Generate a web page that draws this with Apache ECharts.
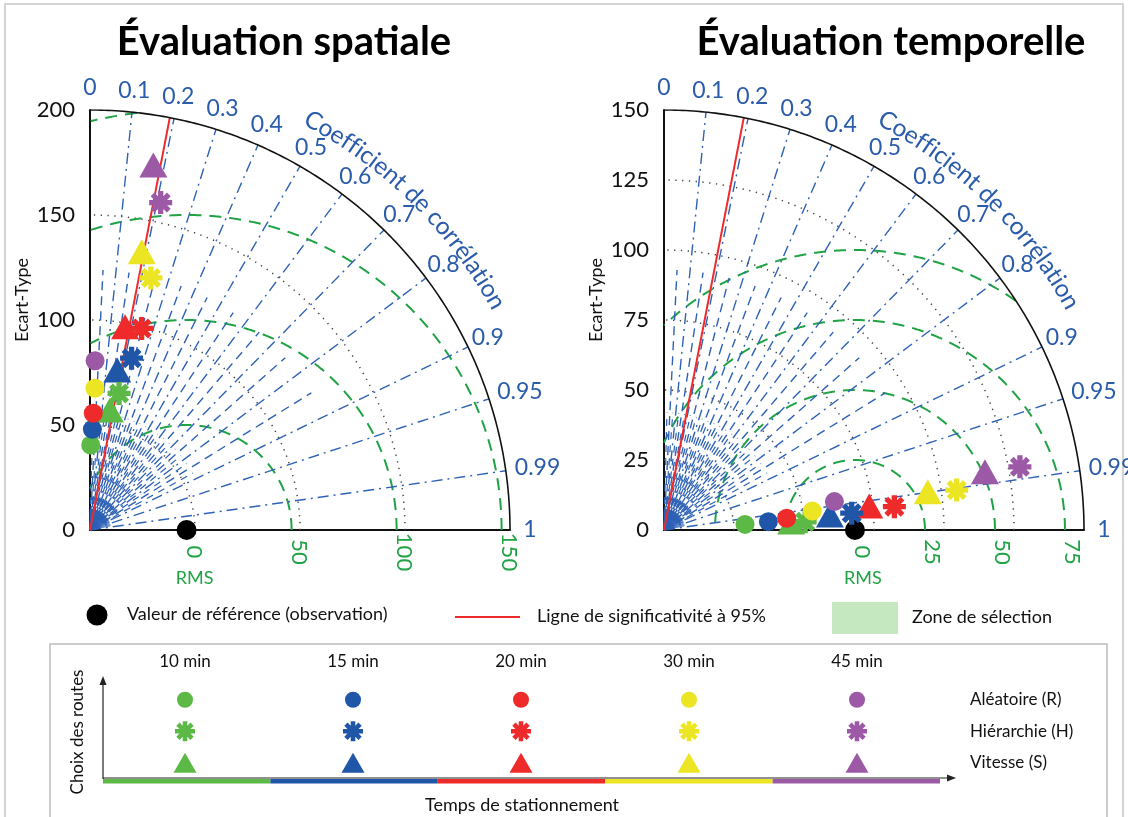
<!DOCTYPE html>
<html>
<head>
<meta charset="utf-8">
<script src="https://cdn.jsdelivr.net/npm/echarts@6/dist/echarts.min.js"></script>
<style>
  html, body { margin: 0; background: #fff; }
  #main { width: 1128px; height: 817px; }
</style>
</head>
<body>
<div id="main"></div>
<script>
// ---- data ----
const times = ['10 min', '15 min', '20 min', '30 min', '45 min'];
const timeColors = ['#5cb946', '#1f56a8', '#ee2a2a', '#ece524', '#9b59a6'];
const routeNames = ['Vitesse (S)', 'Hiérarchie (H)', 'Aléatoire (R)'];
const corrTicks = [0, 0.1, 0.2, 0.3, 0.4, 0.5, 0.6, 0.7, 0.8, 0.9, 0.95, 0.99, 1];
const sigCorr = 0.19;

// spatial evaluation: std dev + correlation per parking time
const spMax = 200, spStep = 50;
const spRef = 46;
const spStdArcs = [50, 100, 150];
const spRms = [50, 100, 150, 200];
const spRmsTicks = [0, 50, 100, 150];
const spStdR = [40.5, 48, 55.6, 67.5, 80.6];
const spCorrR = [0.008, 0.024, 0.028, 0.035, 0.03];
const spStdH = [66.5, 84.2, 99.1, 123.5, 159.5];
const spCorrH = [0.208, 0.235, 0.248, 0.235, 0.211];
const spStdS = [57.9, 77.3, 98.2, 134.8, 176.4];
const spCorrS = [0.164, 0.168, 0.17, 0.183, 0.171];

// temporal evaluation
const tpMax = 150, tpStep = 25;
const tpRef = 68.2;
const tpStdArcs = [25, 50, 75, 100, 125];
const tpRms = [25, 50, 75, 100];
const tpRmsTicks = [0, 25, 50, 75];
const tpStdR = [29.0, 37.4, 44.0, 53.4, 61.7];
const tpCorrR = [0.9976, 0.9968, 0.9955, 0.992, 0.9864];
const tpStdH = [50.5, 67.3, 82.7, 105.5, 129.1];
const tpCorrH = [0.9983, 0.996, 0.9949, 0.9908, 0.9846];
const tpStdS = [45.5, 59.5, 73.8, 95.2, 116.5];
const tpCorrS = [0.998, 0.9959, 0.9932, 0.9896, 0.9839];

// ---- helpers ----
const FONT = 'Lato, "Open Sans", sans-serif';
const BLUE = '#2e62b6';
const LBLUE = '#2a5cab';
const GREEN = '#1fa345';
const DEG = Math.PI / 180;

function toXY(std, corr) {
  const c = Math.max(-1, Math.min(1, corr));
  return [std * c, std * Math.sqrt(1 - c * c)];
}
function stdArc(s) {
  const pts = [];
  for (let a = 0; a <= 90; a += 0.5) pts.push([s * Math.cos(a * DEG), s * Math.sin(a * DEG)]);
  return pts;
}
function rmsArc(ref, d, max) {
  const pts = [];
  for (let a = 0; a <= 180; a += 0.2) {
    const x = ref + d * Math.cos(a * DEG), y = d * Math.sin(a * DEG);
    if (x >= 0 && x * x + y * y <= max * max) pts.push([x, y]);
  }
  return pts;
}
function ray(c, r0, r1) {
  return [toXY(r0, c), toXY(r1, c)];
}
function linesSeries(gi, paths, color, width, type, z) {
  return {
    type: 'lines', coordinateSystem: 'cartesian2d', xAxisIndex: gi, yAxisIndex: gi,
    polyline: true, silent: true, animation: false, z: z || 2,
    lineStyle: { color: color, width: width, type: type, opacity: 1 },
    data: paths.map(p => ({ coords: p }))
  };
}
function asteriskPath() {
  const L = 10, h = 2.3, d = h / Math.sin(Math.PI / 8);
  const pts = [];
  const rot = (x, y, a) => [x * Math.cos(a) - y * Math.sin(a), x * Math.sin(a) + y * Math.cos(a)];
  for (let k = 0; k < 8; k++) {
    const a = k * Math.PI / 4;
    pts.push(rot(L, -h, a));
    pts.push(rot(L, h, a));
    const b = a + Math.PI / 8;
    pts.push([d * Math.cos(b), d * Math.sin(b)]);
  }
  return 'path://M' + pts.map(p => p[0].toFixed(2) + ',' + p[1].toFixed(2)).join(' L') + ' Z';
}
const ASTER = asteriskPath();

function diagramSeries(gi, d) {
  const M = d.max;
  const s = [];
  s.push(linesSeries(gi, d.stdArcs.map(stdArc), '#444', 1.5, [1.3, 5.5]));
  s.push(linesSeries(gi, d.rms.map(r => rmsArc(d.ref, r, M)), GREEN, 2, [12, 8]));
  const major = [], mid = [], small = [], fan = [];
  for (let k = 1; k < 100; k++) {
    const c = k / 100;
    if (k % 10 === 0 || k === 95 || k === 99) major.push(ray(c, 0, M));
    else if (k % 5 === 0 && k < 90) mid.push(ray(c, 0, M * 0.62));
    else fan.push(ray(c, 0, M * 0.05));
  }
  for (let k = 0; k < 18; k++) {
    const c = 0.025 + k * 0.05;
    if (c < 0.9) small.push(ray(c, 0, M * 0.28));
  }
  s.push(linesSeries(gi, major, BLUE, 1.4, [11, 5, 2, 5]));
  s.push(linesSeries(gi, mid, BLUE, 1.4, [9, 6]));
  s.push(linesSeries(gi, small, BLUE, 1.2, [7, 6]));
  s.push(linesSeries(gi, fan, BLUE, 0.7, 'solid'));
  s.push(linesSeries(gi, [ray(sigCorr, 0, M)], '#ee2a2a', 2, 'solid', 3));
  s.push(linesSeries(gi, [stdArc(M)], '#111', 1.6, 'solid', 3));

  const mk = (stds, corrs, symbol, size) => ({
    type: 'scatter', xAxisIndex: gi, yAxisIndex: gi, symbol: symbol, symbolSize: size,
    clip: false, silent: true, animation: false, z: 5,
    data: stds.map((v, i) => ({ value: toXY(v, corrs[i]), itemStyle: { color: timeColors[i], opacity: 1 } }))
  });
  s.push({
    type: 'scatter', xAxisIndex: gi, yAxisIndex: gi, symbol: 'circle', symbolSize: 20,
    clip: false, silent: true, animation: false, z: 4,
    itemStyle: { color: '#000', opacity: 1 }, data: [[d.ref, 0]]
  });
  s.push(mk(d.stdS, d.corrS, 'triangle', [28, 25]));
  s.push(mk(d.stdH, d.corrH, ASTER, 23));
  s.push(mk(d.stdR, d.corrR, 'circle', 19));
  return s;
}

const spatial = { max: spMax, ref: spRef, stdArcs: spStdArcs, rms: spRms,
  stdR: spStdR, corrR: spCorrR, stdH: spStdH, corrH: spCorrH, stdS: spStdS, corrS: spCorrS };
const temporal = { max: tpMax, ref: tpRef, stdArcs: tpStdArcs, rms: tpRms,
  stdR: tpStdR, corrR: tpCorrR, stdH: tpStdH, corrH: tpCorrH, stdS: tpStdS, corrS: tpCorrS };

function valueAxes(gi, max, step) {
  const x = {
    gridIndex: gi, type: 'value', min: 0, max: max, interval: step,
    axisLine: { show: true, onZero: false, lineStyle: { color: '#111', width: 2 } },
    axisTick: { show: false }, axisLabel: { show: false }, splitLine: { show: false }
  };
  const y = {
    gridIndex: gi, type: 'value', min: 0, max: max, interval: step,
    axisLine: { show: true, onZero: false, lineStyle: { color: '#111', width: 2 } },
    axisTick: { show: false }, splitLine: { show: false },
    axisLabel: { color: '#111', fontSize: 22, fontFamily: FONT, margin: 15 }
  };
  return [x, y];
}
const axL = valueAxes(0, spMax, spStep), axR = valueAxes(1, tpMax, tpStep);

// legend matrix (bottom box)
const legendData = (row, sym, size) => times.map((t, i) => ({
  value: [i, row], symbol: sym, symbolSize: size, itemStyle: { color: timeColors[i], opacity: 1 }
}));

const chart = echarts.init(document.getElementById('main'));
chart.setOption({
  animation: false,
  grid: [
    { left: 90, top: 110, width: 420, height: 420, outerBoundsMode: 'none' },
    { left: 664, top: 110, width: 420, height: 420, outerBoundsMode: 'none' },
    { left: 101, top: 684, width: 840, height: 94.5, outerBoundsMode: 'none' }
  ],
  xAxis: [axL[0], axR[0], {
    gridIndex: 2, type: 'category', data: times, position: 'top',
    axisLine: { show: false }, axisTick: { show: false }, splitLine: { show: false },
    axisLabel: { color: '#111', fontSize: 17, fontFamily: FONT, margin: 14 }
  }],
  yAxis: [axL[1], axR[1], {
    gridIndex: 2, type: 'category', data: routeNames, position: 'right',
    axisLine: { show: false }, axisTick: { show: false }, splitLine: { show: false },
    axisLabel: { color: '#111', fontSize: 17, fontFamily: FONT, margin: 29, align: 'left',
      padding: [0, 0, 5, 0] }
  }],
  series: [].concat(
    diagramSeries(0, spatial),
    diagramSeries(1, temporal),
    [{
      type: 'scatter', xAxisIndex: 2, yAxisIndex: 2, silent: true, animation: false,
      data: [].concat(legendData(2, 'circle', 16), legendData(1, ASTER, 20), legendData(0, 'triangle', [23, 20]))
    }]
  )
});

// ---- annotations ----
const g = [];
function txt(x, y, str, o) {
  o = o || {};
  g.push({
    type: 'text', x: x, y: y, rotation: o.rot || 0, silent: true, z: 10,
    style: {
      text: str, fill: o.color || '#111', fontSize: o.size || 17, fontWeight: o.weight || 'normal',
      fontFamily: FONT, align: o.align || 'center', verticalAlign: o.va || 'middle',
      textAlign: o.align || 'center', textVerticalAlign: o.va || 'middle'
    }
  });
}
const measure = document.createElement('canvas').getContext('2d');

function annotateDiagram(gi, d, ticks, title, titleX) {
  const O = chart.convertToPixel({ gridIndex: gi }, [0, 0]);
  txt(titleX, 42, title, { size: 40, weight: 'bold', color: '#000' });
  txt(O[0] - 68, 300, 'Ecart-Type', { size: 18, rot: Math.PI / 2 });
  // correlation tick labels
  corrTicks.forEach(c => {
    const th = Math.acos(c);
    let x = O[0] + 442 * Math.cos(th), y = O[1] - 442 * Math.sin(th);
    if (c >= 0.95 && c < 1) x += 10;
    if (c === 1) x -= 2;
    txt(x, y, String(c), { size: 23, color: LBLUE });
  });
  // curved axis title
  const word = 'Coefficient de corrélation';
  let fs = 24;
  measure.font = fs + 'px ' + FONT;
  const W0 = measure.measureText(word).width;
  const rr = 466;
  fs = fs * (rr * 33.6 * DEG) / W0;
  measure.font = fs + 'px ' + FONT;
  let acc = 0;
  const th0 = 62.4 * DEG;
  for (const ch of word) {
    const w = measure.measureText(ch).width;
    const th = th0 - (acc + w / 2) / rr;
    acc += w;
    if (ch === ' ') continue;
    txt(O[0] + rr * Math.cos(th), O[1] - rr * Math.sin(th), ch,
      { size: fs, color: LBLUE, rot: th - Math.PI / 2 });
  }
  // RMS labels
  ticks.forEach(t => {
    const p = chart.convertToPixel({ gridIndex: gi }, [d.ref + t, 0]);
    txt(p[0] + 7, O[1] + 22, String(t), { size: 22, color: GREEN, rot: -Math.PI / 2 });
  });
  const pr = chart.convertToPixel({ gridIndex: gi }, [d.ref, 0]);
  txt(pr[0] + 8, 578, 'RMS', { size: 18, color: GREEN });
}
annotateDiagram(0, spatial, spRmsTicks, 'Évaluation spatiale', 284);
annotateDiagram(1, temporal, tpRmsTicks, 'Évaluation temporelle', 891);

// legend row
g.push({ type: 'circle', shape: { cx: 97, cy: 615, r: 10.5 }, style: { fill: '#000' }, silent: true });
txt(127, 614, 'Valeur de référence (observation)', { align: 'left', size: 18 });
g.push({ type: 'line', shape: { x1: 455, y1: 617, x2: 520, y2: 617 }, style: { stroke: '#ee2a2a', lineWidth: 2 }, silent: true });
txt(537, 616, 'Ligne de significativité à 95%', { align: 'left', size: 18 });
g.push({ type: 'rect', shape: { x: 832, y: 602, width: 66, height: 32 }, style: { fill: '#c6e8c0' }, silent: true });
txt(912, 617, 'Zone de sélection', { align: 'left', size: 18 });

// bottom box
g.push({ type: 'rect', shape: { x: 50, y: 644, width: 1057, height: 200 }, style: { fill: 'none', stroke: '#bdbdbd', lineWidth: 1.5 }, silent: true });
const segW = 837 / times.length;
times.forEach((t, i) => {
  g.push({ type: 'rect', shape: { x: 103 + i * segW, y: 779, width: segW, height: 4.5 }, style: { fill: timeColors[i] }, silent: true });
});
g.push({ type: 'line', shape: { x1: 103, y1: 778, x2: 950, y2: 778 }, style: { stroke: '#222', lineWidth: 1.2 }, silent: true });
g.push({ type: 'polygon', shape: { points: [[956, 778], [947, 774.5], [947, 781.5]] }, style: { fill: '#222' }, silent: true });
g.push({ type: 'line', shape: { x1: 103, y1: 779, x2: 103, y2: 682 }, style: { stroke: '#222', lineWidth: 1.2 }, silent: true });
g.push({ type: 'polygon', shape: { points: [[103, 676], [99.5, 685], [106.5, 685]] }, style: { fill: '#222' }, silent: true });
txt(78, 732, 'Choix des routes', { size: 17, rot: Math.PI / 2 });
txt(522, 805, 'Temps de stationnement', { size: 18 });

// outer frame
g.push({ type: 'rect', shape: { x: 5, y: 4, width: 1118, height: 830 }, style: { fill: 'none', stroke: '#d4d4d4', lineWidth: 2 }, silent: true });

chart.setOption({ graphic: { elements: g } });
</script>
</body>
</html>
